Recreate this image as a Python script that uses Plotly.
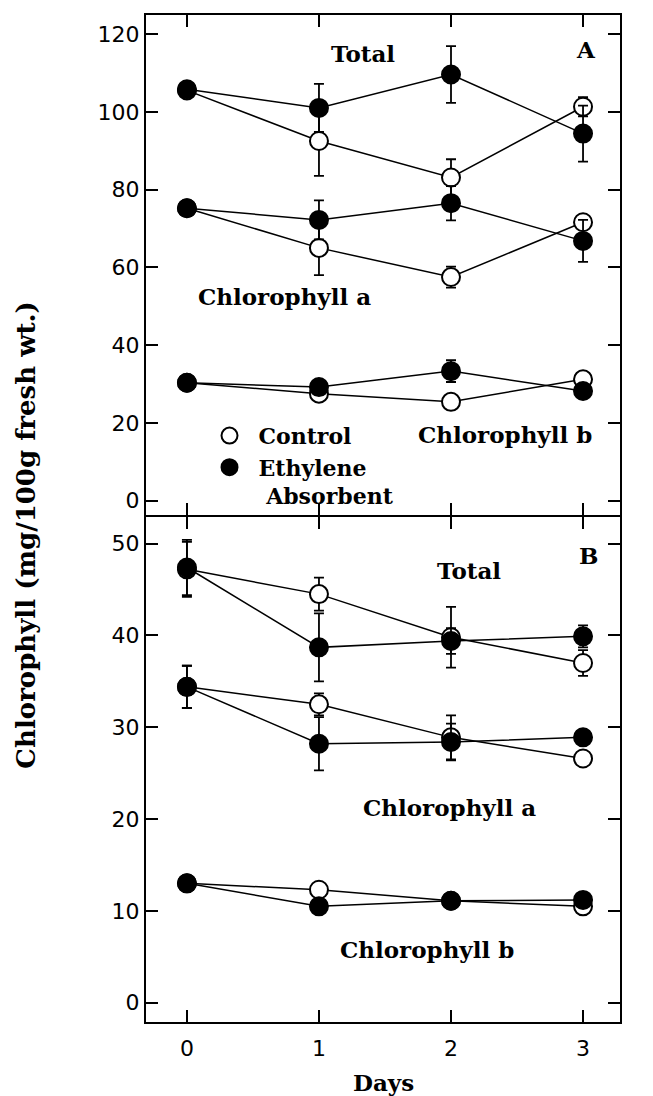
import plotly.graph_objects as go

days = [0, 1, 2, 3]

# Panel A
a_total_control = [105.5, 92.5, 83.1, 101.3]
a_total_control_err = [0.0, 9.0, 4.7, 2.5]
a_total_eth = [105.8, 101.0, 109.6, 94.4]
a_total_eth_err = [0.0, 6.2, 7.3, 7.2]
a_chla_control = [75.2, 65.0, 57.5, 71.6]
a_chla_control_err = [0.0, 7.0, 2.7, 1.5]
a_chla_eth = [75.2, 72.2, 76.5, 66.8]
a_chla_eth_err = [0.0, 5.0, 4.4, 5.4]
a_chlb_control = [30.3, 27.5, 25.4, 31.2]
a_chlb_control_err = [0.0, 0.0, 0.0, 0.0]
a_chlb_eth = [30.3, 29.2, 33.3, 28.2]
a_chlb_eth_err = [0.0, 0.0, 2.8, 0.0]

# Panel B
b_total_control = [47.2, 44.5, 39.8, 37.0]
b_total_control_err = [3.0, 1.8, 3.3, 1.4]
b_total_eth = [47.4, 38.7, 39.4, 39.9]
b_total_eth_err = [3.0, 3.7, 1.4, 1.2]
b_chla_control = [34.4, 32.5, 28.9, 26.6]
b_chla_control_err = [2.3, 1.2, 2.4, 0.0]
b_chla_eth = [34.4, 28.2, 28.4, 28.9]
b_chla_eth_err = [2.3, 2.9, 2.0, 0.0]
b_chlb_control = [13.0, 12.3, 11.1, 10.5]
b_chlb_eth = [13.0, 10.5, 11.1, 11.2]

a_ticks = [0, 20, 40, 60, 80, 100, 120]
b_ticks = [0, 10, 20, 30, 40, 50]

LABEL_FONT = "DejaVu Serif"
TICK_FONT = "DejaVu Sans"

fig = go.Figure()

def marker_style(control):
    return dict(size=18, color="white" if control else "black",
                line=dict(color="black", width=2))

def add(y, err, control, xa, ya):
    fig.add_trace(go.Scatter(
        x=days, y=y, mode="lines+markers",
        line=dict(color="black", width=1.5),
        marker=marker_style(control),
        error_y=dict(type="data", array=err if err is not None else [0, 0, 0, 0],
                     visible=err is not None,
                     color="black", thickness=1.8, width=5),
        xaxis=xa, yaxis=ya, showlegend=False,
    ))

add(a_total_control, a_total_control_err, True, "x", "y")
add(a_total_eth, a_total_eth_err, False, "x", "y")
add(a_chla_control, a_chla_control_err, True, "x", "y")
add(a_chla_eth, a_chla_eth_err, False, "x", "y")
add(a_chlb_control, a_chlb_control_err, True, "x", "y")
add(a_chlb_eth, a_chlb_eth_err, False, "x", "y")

add(b_total_control, b_total_control_err, True, "x2", "y2")
add(b_total_eth, b_total_eth_err, False, "x2", "y2")
add(b_chla_control, b_chla_control_err, True, "x2", "y2")
add(b_chla_eth, b_chla_eth_err, False, "x2", "y2")
add(b_chlb_control, None, True, "x2", "y2")
add(b_chlb_eth, None, False, "x2", "y2")

# legend-only entries (markers without line)
fig.add_trace(go.Scatter(x=[None], y=[None], mode="markers", marker=marker_style(True),
                         name="<b>Control</b>", showlegend=True))
fig.add_trace(go.Scatter(x=[None], y=[None], mode="markers", marker=marker_style(False),
                         name="<b>Ethylene</b><br><b>&nbsp;Absorbent</b>", showlegend=True))

ax_common = dict(showline=True, linewidth=2, linecolor="black", mirror="allticks",
                 ticks="inside", ticklen=12, tickwidth=1.5, tickcolor="black",
                 showgrid=False, zeroline=False,
                 tickfont=dict(family=TICK_FONT, size=22, color="black"))

xrange_ = [-0.31, 3.28]
fig.update_layout(
    width=645, height=1088,
    margin=dict(l=138, r=33, t=5, b=74),
    plot_bgcolor="white", paper_bgcolor="white",
    xaxis=dict(**ax_common, range=xrange_, tickvals=days, showticklabels=False,
               anchor="y"),
    yaxis=dict(**ax_common, range=[-3.7, 124.9], tickvals=a_ticks,
               domain=[0.5035, 1.0], anchor="x"),
    xaxis2=dict(**ax_common, range=xrange_, tickvals=days, anchor="y2",
                ticklabelstandoff=6),
    yaxis2=dict(**ax_common, range=[-2.1, 52.9], tickvals=b_ticks,
                domain=[0.0, 0.5015], anchor="x2"),
    legend=dict(x=0.115, y=0.603, xanchor="left", yanchor="top",
                bgcolor="rgba(0,0,0,0)", valign="top", tracegroupgap=0,
                itemwidth=48,
                font=dict(family=LABEL_FONT, size=22, color="black")),
)

def ann(text, x, y, xref, yref, size=23, **kw):
    fig.add_annotation(text="<b>" + text + "</b>", x=x, y=y, xref=xref, yref=yref,
                       xanchor="center", yanchor="middle",
                       showarrow=False, font=dict(family=LABEL_FONT, size=size, color="black"), **kw)

ann("Total", 1.33, 115, "x", "y")
ann("A", 3.02, 116, "x", "y")
ann("Chlorophyll a", 0.74, 52.6, "x", "y")
ann("Chlorophyll b", 2.41, 17.1, "x", "y")
ann("B", 3.04, 48.7, "x2", "y2")
ann("Total", 2.14, 47.1, "x2", "y2")
ann("Chlorophyll a", 1.99, 21.3, "x2", "y2")
ann("Chlorophyll b", 1.82, 5.8, "x2", "y2")

ann("Days", 0.5, -0.0605, "paper", "paper", size=23)
ann("Chlorophyll (mg/100g fresh wt.)", -0.253, 0.484, "paper", "paper", size=26, textangle=-90)

fig.write_html("out.html")
